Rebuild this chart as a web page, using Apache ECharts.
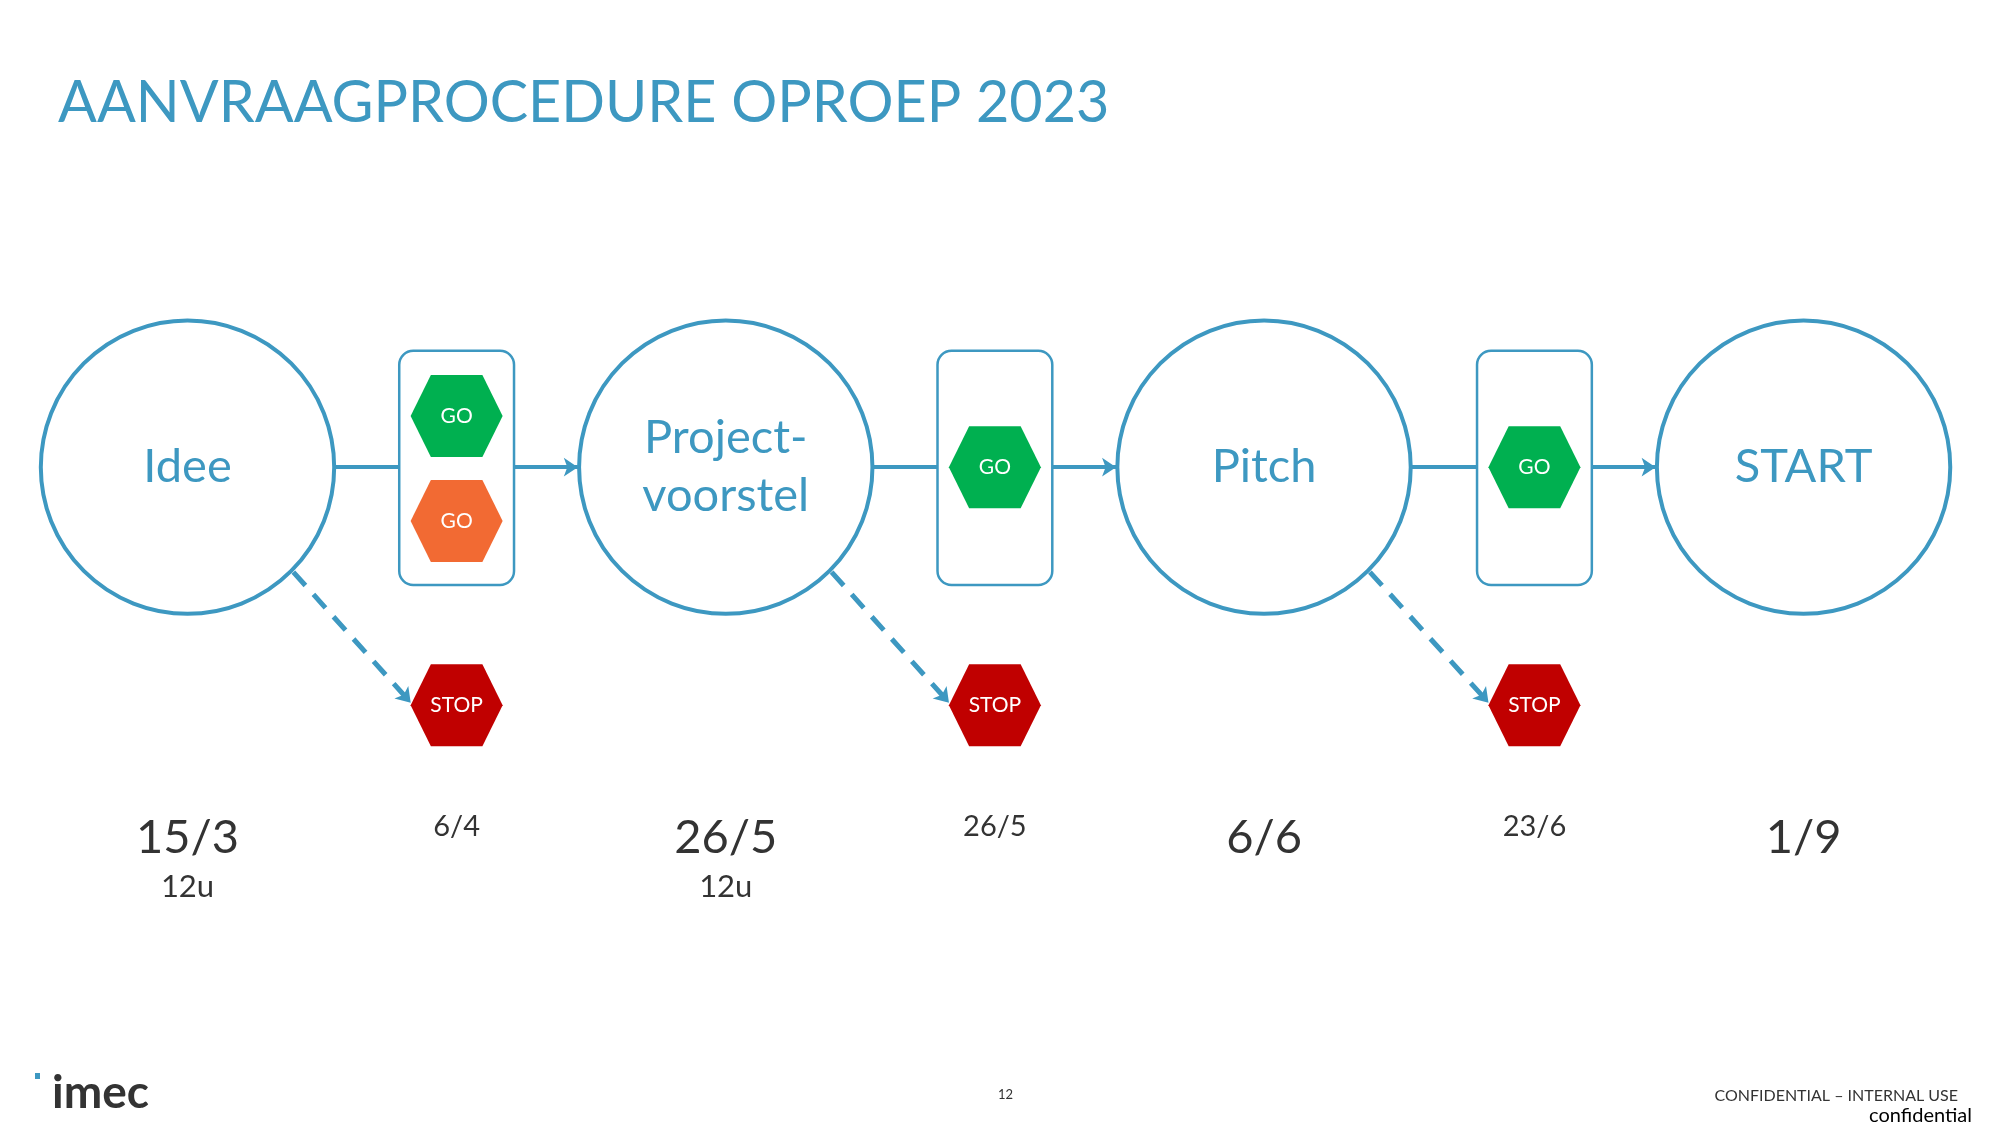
<!DOCTYPE html>
<html><head><meta charset="utf-8">
<script src="https://cdn.jsdelivr.net/npm/echarts@6/dist/echarts.min.js"></script>
<style>html,body{margin:0;padding:0;background:#fff}#c{width:2000px;height:1125px}</style>
</head><body><div id="c"></div>
<script>
const stages = ['Idee', 'Project-\nvoorstel', 'Pitch', 'START'];
const stageX = [147, 569, 991, 1414];
const stageDates = ['15/3', '26/5', '6/6', '1/9'];
const stageTimes = ['12u', '12u', '', ''];
const gateX = [358, 780, 1203];
const gateDates = ['6/4', '26/5', '23/6'];
const gateHexes = [[['GO', '#00b050', 325], ['GO', '#f26a33', 407]], [['GO', '#00b050', 365]], [['GO', '#00b050', 365]]];
const stopLabel = 'STOP';

const S = 2000 / 1568;
const BLUE = '#3d98c1';
const FONT = 'Lato';
const HEX = 'path://M0,50 L22,0 L78,0 L100,50 L78,100 L22,100 Z';
const CY = 365, R = 115;

const circleData = stages.map((n, i) => ({ value: [stageX[i], CY], name: n }));
const hexData = [];
gateHexes.forEach((g, i) => g.forEach(h => hexData.push({ value: [gateX[i], h[2]], name: h[0], itemStyle: { color: h[1] } })));
const stopData = gateX.map(x => ({ value: [x, 551], name: stopLabel, itemStyle: { color: '#c00000' } }));
const dateData = stageDates.map((d, i) => ({ value: [stageX[i], 655], name: d }));
const timeData = stageTimes.map((d, i) => ({ value: [stageX[i], 693], name: d })).filter(d => d.name);
const gateDateData = gateDates.map((d, i) => ({ value: [gateX[i], 646], name: d }));

const plain = [], arrows = [], dashed = [];
gateX.forEach((gx, i) => {
  plain.push({ coords: [[stageX[i] + R, CY], [gx - 45, CY]] });
  arrows.push({ coords: [[gx + 45, CY], [stageX[i + 1] - R - 1, CY]] });
  dashed.push({ coords: [[stageX[i] + 83, 447], [gx - 36, 549]] });
});

function labelSeries(data, size, color) {
  return { type: 'scatter', data, symbolSize: 0, itemStyle: { color: 'rgba(0,0,0,0)', opacity: 1 }, silent: true,
    labelLayout: { hideOverlap: false },
    label: { show: true, position: 'inside', formatter: p => p.name, fontFamily: FONT, fontSize: size, color, opacity: 1 } };
}

const chart = echarts.init(document.getElementById('c'));
chart.setOption({
  animation: false,
  title: { text: 'AANVRAAGPROCEDURE OPROEP 2023', left: 53, top: 69,
    textStyle: { fontFamily: FONT, fontWeight: 'normal', fontSize: 57.5, color: BLUE } },
  grid: { left: 0, right: 0, top: 0, bottom: 0 },
  xAxis: { type: 'value', min: 0, max: 1568, show: false },
  yAxis: { type: 'value', min: 0, max: 879, inverse: true, show: false },
  graphic: [
    { type: 'text', left: 52, top: 1070, style: { text: 'imec', font: 'bold 46px ' + FONT, fill: '#333' } },
    { type: 'rect', left: 35, top: 1073, shape: { width: 5, height: 6 }, style: { fill: BLUE } },
    { type: 'text', left: 998, top: 1088, style: { text: '12', font: '13px ' + FONT, fill: '#333' } },
    { type: 'text', right: 42, top: 1088, style: { text: 'CONFIDENTIAL – INTERNAL USE', font: '16px ' + FONT, fill: '#333' } },
    { type: 'text', right: 28, top: 1106, style: { text: 'confidential', font: '20px ' + FONT, fill: '#000' } }
  ],
  series: [
    { type: 'lines', coordinateSystem: 'cartesian2d', data: plain, lineStyle: { color: BLUE, width: 4, opacity: 1 }, symbol: 'none' },
    { type: 'lines', coordinateSystem: 'cartesian2d', data: arrows, lineStyle: { color: BLUE, width: 4, opacity: 1 }, symbol: ['none', 'arrow'], symbolSize: 14 },
    { type: 'lines', coordinateSystem: 'cartesian2d', data: dashed, lineStyle: { color: BLUE, width: 5, type: [18, 12], opacity: 1 }, symbol: ['none', 'arrow'], symbolSize: 14 },
    { type: 'custom', data: gateX.map(x => [x]), renderItem: (params, api) => {
        const p1 = api.coord([api.value(0) - 45, 274]);
        const p2 = api.coord([api.value(0) + 45, 457]);
        return { type: 'rect', shape: { x: p1[0], y: p1[1], width: p2[0] - p1[0], height: p2[1] - p1[1], r: 14 },
          style: { fill: '#fff', stroke: BLUE, lineWidth: 2.5 } };
      } },
    { type: 'scatter', data: circleData, symbol: 'circle', symbolSize: 2 * R * S,
      itemStyle: { color: '#fff', borderColor: BLUE, borderWidth: 4, opacity: 1 },
      label: { show: true, position: 'inside', formatter: p => p.name, fontFamily: FONT, fontSize: 47, color: BLUE, lineHeight: 58 } },
    { type: 'scatter', data: hexData.concat(stopData), symbol: HEX, symbolKeepAspect: false, symbolSize: [92, 82],
      itemStyle: { opacity: 1 },
      label: { show: true, position: 'inside', formatter: p => p.name, fontFamily: FONT, fontSize: 21, color: '#fff' } },
    labelSeries(dateData, 47, '#333'),
    labelSeries(timeData, 31, '#333'),
    labelSeries(gateDateData, 29, '#333')
  ]
});
</script></body></html>
